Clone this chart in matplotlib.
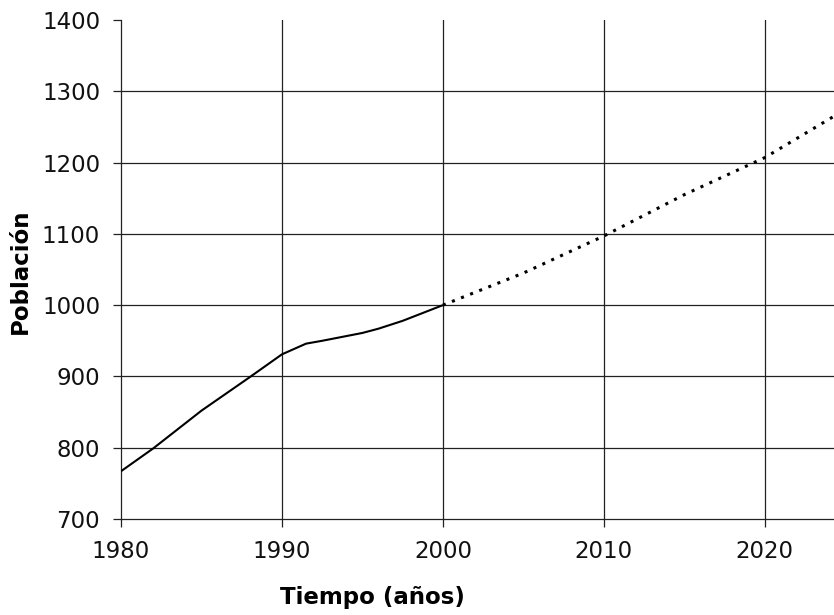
import matplotlib
matplotlib.use("Agg")
import matplotlib.pyplot as plt

# observed population (solid) and projection (dotted)
years_obs = [1980, 1982, 1985, 1988, 1990, 1991.5, 1992.5, 1995, 1996, 1997.5, 2000]
pop_obs = [767, 799, 852, 899, 931, 946, 950, 961, 967, 978, 1000]
years_proj = [2000, 2005, 2010, 2015, 2020, 2024.3]
pop_proj = [1000, 1045, 1097, 1155, 1207, 1265]

xticks = [1980, 1990, 2000, 2010, 2020]
yticks = [700, 800, 900, 1000, 1100, 1200, 1300, 1400]

plt.rcParams.update({"font.family": "DejaVu Sans", "font.size": 16})

fig = plt.figure(figsize=(8.34, 6.15), dpi=100)
ax = fig.add_axes([121 / 834, 1 - 519 / 615, 1 - 121 / 834, (519 - 20) / 615])

ax.plot(years_obs, pop_obs, color="black", lw=1.5, solid_capstyle="butt", zorder=3)
ax.plot(years_proj, pop_proj, color="black", lw=2.2, ls=(0, (1, 2.2)), zorder=3)

ax.set_xlim(1980, 2024.3)
ax.set_ylim(700, 1400)
ax.set_xticks(xticks)
ax.set_yticks(yticks)

# grid drawn as in the scanned original: thin dark lines, no line at the top
for x in xticks[1:]:
    ax.axvline(x, color="#222222", lw=0.9, zorder=1)
for y in yticks[1:-1]:
    ax.axhline(y, color="#222222", lw=0.9, zorder=1)

for side in ("top", "right"):
    ax.spines[side].set_visible(False)
for side in ("left", "bottom"):
    ax.spines[side].set_color("#222222")
    ax.spines[side].set_linewidth(0.9)

ax.tick_params(direction="out", length=6, width=0.9, color="#222222",
               labelsize=16.5, labelcolor="#111111", pad=9)

ax.set_xlabel("Tiempo (años)", fontsize=16.5, fontweight="bold")
ax.xaxis.set_label_coords((372 - 121) / (834 - 121), -0.135)
ax.set_ylabel("Población", fontsize=16.5, fontweight="bold")
ax.yaxis.set_label_coords((32 - 121) / (834 - 121), 0.497)

fig.savefig("out.png", dpi=100)
